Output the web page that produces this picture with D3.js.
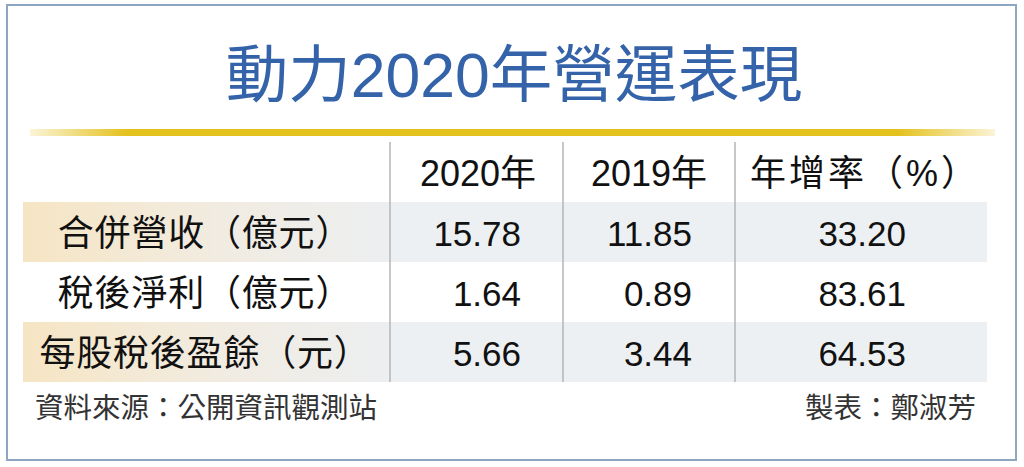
<!DOCTYPE html>
<html>
<head>
<meta charset="utf-8">
<script src="https://cdn.jsdelivr.net/npm/d3@7"></script>
<style>
  html, body { margin: 0; padding: 0; background: #fff; }
  svg { display: block; }
  text { text-spacing-trim: space-all; }
</style>
</head>
<body>
<div id="chart"></div>
<script>
// Table content
const title = "動力2020年營運表現";
const rowLabels = ["合併營收（億元）", "稅後淨利（億元）", "每股稅後盈餘（元）"];
const colHeaders = ["2020年", "2019年", "年增率（%）"];
const values2020 = [15.78, 1.64, 5.66];
const values2019 = [11.85, 0.89, 3.44];
const growthPct = [33.20, 83.61, 64.53];
const sourceNote = "資料來源：公開資訊觀測站";
const makerNote = "製表：鄭淑芳";

const width = 1024;
const height = 467;
const latinFont = "'Liberation Sans', Arial, 'Noto Sans CJK TC', sans-serif";
const fmt = d3.format(".2f");

// Column layout: left/right edges and where text sits
const columns = [
  { key: "label",  x0: 23,  x1: 390, anchor: "middle", tx: 205 },
  { key: "y2020",  x0: 390, x1: 563, anchor: "end",    tx: 521, hx: 478 },
  { key: "y2019",  x0: 563, x1: 735, anchor: "end",    tx: 692, hx: 649 },
  { key: "growth", x0: 735, x1: 987, anchor: "end",    tx: 906, hx: 865 }
];
const series = [values2020, values2019, growthPct];

const svg = d3.select("#chart")
  .append("svg")
  .attr("width", width)
  .attr("height", height);

const defs = svg.append("defs");

// Gold rule under title, fading at both ends
let gold = defs.append("linearGradient").attr("id", "gold");
[[0, "#fbf4d8"], [0.1, "#e4c21e"], [0.9, "#e4c21e"], [1, "#fbf4d8"]].forEach(s =>
  gold.append("stop").attr("offset", s[0]).attr("stop-color", s[1]));

// Label cell shading: beige to grey
let beige = defs.append("linearGradient").attr("id", "beige");
[[0, "#f6e5c4"], [0.55, "#f1ece2"], [1, "#eceef0"]].forEach(s =>
  beige.append("stop").attr("offset", s[0]).attr("stop-color", s[1]));

// Outer frame
svg.append("rect")
  .attr("x", 7).attr("y", 5)
  .attr("width", 1009).attr("height", 455)
  .attr("fill", "#fff")
  .attr("stroke", "#8ea5c4")
  .attr("stroke-width", 2);

// Title
svg.append("text")
  .attr("x", width / 2 + 2)
  .attr("y", 97)
  .attr("text-anchor", "middle")
  .attr("font-family", latinFont)
  .attr("font-size", 62.5)
  .attr("fill", "#3463a9")
  .text(title);

svg.append("rect")
  .attr("x", 30).attr("y", 129)
  .attr("width", 965).attr("height", 7)
  .attr("fill", "url(#gold)");

// Row scale
const yBand = d3.scaleBand()
  .domain(["header"].concat(rowLabels))
  .range([142, 382]);

// Shaded rows (1st and 3rd data rows)
const shaded = rowLabels.filter((d, i) => i % 2 === 0);
const rowsG = svg.append("g").attr("class", "shading");
rowsG.selectAll("rect.label-bg")
  .data(shaded)
  .join("rect")
  .attr("class", "label-bg")
  .attr("x", columns[0].x0)
  .attr("y", d => yBand(d))
  .attr("width", columns[0].x1 - columns[0].x0)
  .attr("height", yBand.bandwidth())
  .attr("fill", "url(#beige)");
rowsG.selectAll("rect.data-bg")
  .data(shaded)
  .join("rect")
  .attr("class", "data-bg")
  .attr("x", columns[1].x0)
  .attr("y", d => yBand(d))
  .attr("width", columns[3].x1 - columns[1].x0)
  .attr("height", yBand.bandwidth())
  .attr("fill", "#edf0f3");

// Column dividers
svg.append("g").selectAll("line")
  .data(columns.slice(1))
  .join("line")
  .attr("x1", d => d.x0).attr("x2", d => d.x0)
  .attr("y1", yBand.range()[0]).attr("y2", yBand.range()[1])
  .attr("stroke", "#b4b4b4")
  .attr("stroke-width", 1.5);

const baseOff = 14;

// Header row
svg.append("g").selectAll("text")
  .data(colHeaders)
  .join("text")
  .attr("x", (d, i) => columns[i + 1].hx)
  .attr("y", yBand("header") + yBand.bandwidth() / 2 + baseOff)
  .attr("text-anchor", "middle")
  .attr("font-family", latinFont)
  .attr("font-size", 36)
  .attr("letter-spacing", (d, i) => i === 2 ? 3 : 0)
  .attr("fill", "#111")
  .text(d => d);

// Row labels
svg.append("g").selectAll("text")
  .data(rowLabels)
  .join("text")
  .attr("x", columns[0].tx)
  .attr("y", d => yBand(d) + yBand.bandwidth() / 2 + baseOff)
  .attr("text-anchor", "middle")
  .attr("font-family", "'Noto Sans CJK TC', sans-serif")
  .attr("font-size", 36)
  .attr("letter-spacing", 0.8)
  .attr("fill", "#111")
  .text(d => d);

// Values
series.forEach((vals, ci) => {
  const col = columns[ci + 1];
  svg.append("g").selectAll("text")
    .data(vals)
    .join("text")
    .attr("x", col.tx)
    .attr("y", (d, i) => yBand(rowLabels[i]) + yBand.bandwidth() / 2 + baseOff)
    .attr("text-anchor", col.anchor)
    .attr("font-family", latinFont)
    .attr("font-size", 35)
    .attr("fill", "#111")
    .text(d => fmt(d));
});

// Footer notes
svg.append("text")
  .attr("x", 35)
  .attr("y", 418)
  .attr("font-family", "'Noto Sans CJK TC', sans-serif")
  .attr("font-size", 28.5)
  .attr("fill", "#333")
  .text(sourceNote);

svg.append("text")
  .attr("x", 976)
  .attr("y", 418)
  .attr("text-anchor", "end")
  .attr("font-family", "'Noto Sans CJK TC', sans-serif")
  .attr("font-size", 28.5)
  .attr("fill", "#333")
  .text(makerNote);
</script>
</body>
</html>
